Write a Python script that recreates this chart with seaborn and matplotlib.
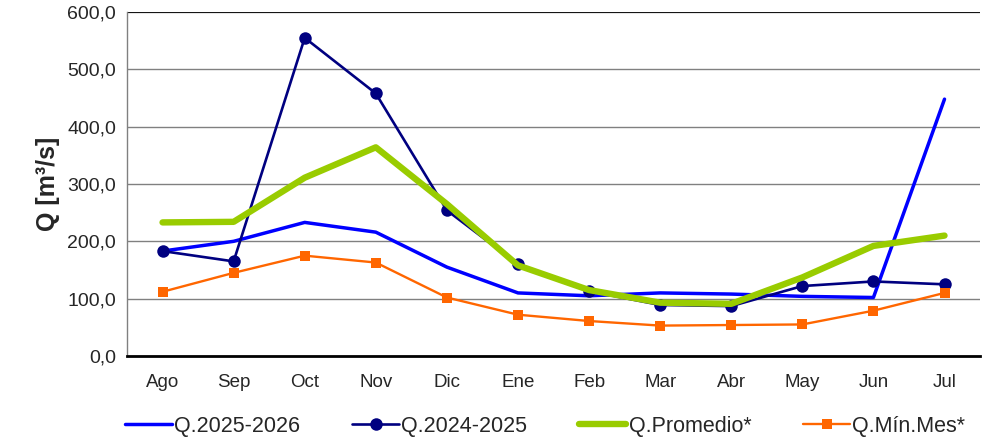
import pandas as pd
import matplotlib.pyplot as plt
import seaborn as sns
from matplotlib.ticker import FuncFormatter, MultipleLocator

# Datos (caudales mensuales, m3/s)
meses = ['Ago', 'Sep', 'Oct', 'Nov', 'Dic', 'Ene', 'Feb', 'Mar', 'Abr', 'May', 'Jun', 'Jul']
q_2025_2026 = [183, 200, 233, 216, 155, 110, 105, 110, 108, 104, 102, 448]
q_2024_2025 = [183, 165, 555, 458, 254, 160, 113, 89, 87, 122, 130, 125]
q_promedio = [233, 234, 311, 364, 265, 158, 115, 93, 91, 137, 192, 210]
q_min_mes = [112, 145, 175, 163, 102, 72, 61, 53, 54, 55, 79, 110]

df = pd.DataFrame({'Mes': meses,
                   'Q.2025-2026': q_2025_2026,
                   'Q.2024-2025': q_2024_2025,
                   'Q.Promedio*': q_promedio,
                   'Q.Mín.Mes*': q_min_mes})

sns.set_style('white')
plt.rcParams['font.family'] = ['Liberation Sans', 'DejaVu Sans']

fig = plt.figure(figsize=(9.83, 4.37), dpi=100)
ax = fig.add_axes([0.1292, 0.1854, 0.8678, 0.7871])

# Series
estilos = {
    'Q.2025-2026': dict(color='#0000FF', lw=2.5, marker=None, ms=0, z=3),
    'Q.2024-2025': dict(color='#000080', lw=1.9, marker='o', ms=9, z=4),
    'Q.Promedio*': dict(color='#99CC00', lw=4.6, marker=None, ms=0, z=5),
    'Q.Mín.Mes*': dict(color='#FF6600', lw=1.7, marker='s', ms=7, z=4),
}
for serie, st in estilos.items():
    sns.lineplot(data=df, x='Mes', y=serie, ax=ax, sort=False, label=serie,
                 color=st['color'], linewidth=st['lw'], marker=st['marker'],
                 markersize=st['ms'], markeredgewidth=0, zorder=st['z'])

# Ejes
ax.set_xlim(-0.5, len(meses) - 0.5)
ax.set_ylim(0, 600)
ax.yaxis.set_major_locator(MultipleLocator(100))
ax.yaxis.set_major_formatter(FuncFormatter(lambda v, p: f'{v:.1f}'.replace('.', ',')))
ax.grid(axis='y', color='#808080', linewidth=1)
ax.set_axisbelow(True)

ax.set_xticks(range(len(meses)))
ax.set_xticklabels(meses)
ax.set_xticks([i + 0.5 for i in range(-1, len(meses))], minor=True)
ax.tick_params(axis='x', which='major', length=0, pad=13, labelsize=13.5)
ax.tick_params(axis='x', which='minor', direction='in', length=5, width=1.5, color='black')
ax.tick_params(axis='y', length=4, color='#808080', labelsize=14, pad=4)

for s in ['top', 'right']:
    ax.spines[s].set_visible(False)
ax.spines['left'].set_color('#808080')
ax.spines['left'].set_linewidth(1)
ax.spines['bottom'].set_color('black')
ax.spines['bottom'].set_linewidth(2)
ax.axhline(600, color='black', linewidth=1.2, zorder=1)

ax.set_xlabel('')
ax.set_ylabel('Q [m³/s]', fontsize=18, fontweight='bold', labelpad=5)

ax.legend(loc='upper center', bbox_to_anchor=(0.49, -0.118), ncol=4, frameon=False,
          fontsize=15.5, handlelength=2.2, handletextpad=0.1, columnspacing=2.4)

plt.savefig('out.png', dpi=100)
